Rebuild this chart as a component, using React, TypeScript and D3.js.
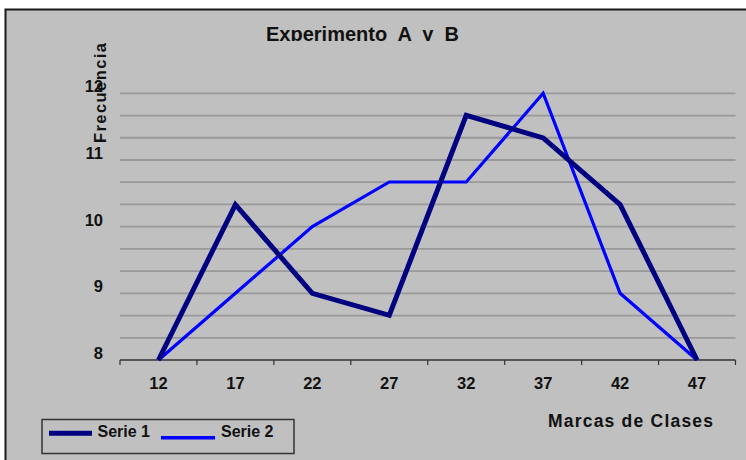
import React from "react";
import * as d3 from "d3";

const categories = ["12", "17", "22", "27", "32", "37", "42", "47"];
const serie1 = [8, 10.33, 9, 8.67, 11.67, 11.33, 10.33, 8];
const serie2 = [8, 9, 10, 10.67, 10.67, 12, 9, 8];
const yTicks = [8, 9, 10, 11, 12];
const seriesNames = ["Serie 1", "Serie 2"];
const title = "Experimento  A  y  B";
const xTitle = "Marcas de Clases";
const yTitle = "Frecuencia";

const W = 746;
const H = 460;
const FONT = "'Liberation Sans', Arial, sans-serif";

export default function App() {
  const x = d3.scaleBand<string>().domain(categories).range([120, 735.5]);
  const y = d3.scaleLinear().domain([8, 12]).range([360, 93.3]);
  const gridVals = d3.range(1, 13).map((i) => 8 + i / 3);
  const line = d3
    .line<number>()
    .x((_, i) => (x(categories[i]) as number) + x.bandwidth() / 2)
    .y((d) => y(d));
  const boundaries = categories.map((c) => x(c) as number).concat([x.range()[1]]);

  return (
    <svg
      width={W}
      height={H}
      style={{ position: "absolute", left: 0, top: 0, background: "#fff" }}
      fontFamily={FONT}
    >
      <defs>
        <clipPath id="titleClip">
          <rect x={0} y={0} width={W} height={41} />
        </clipPath>
      </defs>
      <rect x={5.5} y={9.5} width={W + 20} height={H + 20} fill="#c0c0c0" stroke="#1a1a1a" strokeWidth={2} />

      {gridVals.map((v, i) => (
        <line key={i} x1={120} x2={735.5} y1={y(v)} y2={y(v)} stroke="#999" strokeWidth={1.8} />
      ))}

      <line x1={120} x2={735.5} y1={360} y2={360} stroke="#333" strokeWidth={1.5} />
      {boundaries.map((b, i) => (
        <line key={i} x1={b} x2={b} y1={360} y2={365} stroke="#333" strokeWidth={1.2} />
      ))}
      {categories.map((c) => (
        <text
          key={c}
          x={(x(c) as number) + x.bandwidth() / 2}
          y={389}
          textAnchor="middle"
          fontSize={16.5}
          fontWeight="bold"
          fill="#111"
        >
          {c}
        </text>
      ))}

      {yTicks.map((t) => (
        <text key={t} x={103} y={y(t) - 1} textAnchor="end" fontSize={16.5} fontWeight="bold" fill="#111">
          {t}
        </text>
      ))}

      <path d={line(serie2) || ""} fill="none" stroke="#0000ff" strokeWidth={3.2} strokeLinejoin="miter" />
      <path d={line(serie1) || ""} fill="none" stroke="#000080" strokeWidth={5} strokeLinejoin="miter" />

      <text
        x={362.5}
        y={40.5}
        textAnchor="middle"
        fontSize={20}
        fontWeight="bold"
        fill="#111"
        clipPath="url(#titleClip)"
        style={{ whiteSpace: "pre" }}
      >
        {title}
      </text>

      <text
        transform="translate(105.5,143) rotate(-90)"
        fontSize={16.5}
        fontWeight="bold"
        fill="#111"
        textLength={100}
        lengthAdjust="spacing"
      >
        {yTitle}
      </text>

      <text x={548} y={427} fontSize={17.5} fontWeight="bold" fill="#111" textLength={165} lengthAdjust="spacing">
        {xTitle}
      </text>

      <rect x={42} y={419.5} width={252} height={34} fill="none" stroke="#333" strokeWidth={1.5} />
      <line x1={49} x2={92} y1={433.3} y2={433.3} stroke="#000080" strokeWidth={5} />
      <text x={97.5} y={437} fontSize={16} fontWeight="bold" fill="#111">
        {seriesNames[0]}
      </text>
      <line x1={161} x2={215} y1={437.7} y2={437.7} stroke="#0000ff" strokeWidth={3.5} />
      <text x={221} y={437} fontSize={16} fontWeight="bold" fill="#111">
        {seriesNames[1]}
      </text>
    </svg>
  );
}
